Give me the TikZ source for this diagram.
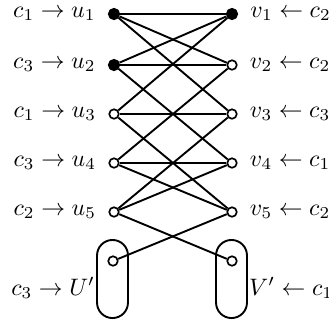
\documentclass[tikz,border=0pt]{standalone}
\begin{document}
\begin{tikzpicture}[x=0.42pt,y=-0.42pt,
  vtx/.style={circle,draw,line width=0.7pt,inner sep=0pt,minimum size=4pt,fill=white},
  fvtx/.style={vtx,fill=black,minimum size=4.4pt},
  edge/.style={line width=0.8pt},
  ll/.style={label={[label distance=4.5pt,inner sep=0.5pt]left:#1}},
  rl/.style={label={[label distance=4.5pt,inner sep=0.5pt]right:#1}},
  capsule/.style={draw,line width=0.8pt,rounded corners=6.5pt,minimum width=13pt,minimum height=32.8pt,inner sep=0pt}]
\useasboundingbox (0,0) rectangle (329,320);
% capsules
\node[capsule] (Ucap) at (112.5,279) {};
\node[capsule] (Vcap) at (231.5,279) {};
% left vertices
\node[fvtx,ll={$c_1\rightarrow u_1$}] (u1) at (114,14) {};
\node[fvtx,ll={$c_3\rightarrow u_2$}] (u2) at (114,65) {};
\node[vtx,ll={$c_1\rightarrow u_3$}] (u3) at (114,114) {};
\node[vtx,ll={$c_3\rightarrow u_4$}] (u4) at (114,163) {};
\node[vtx,ll={$c_2\rightarrow u_5$}] (u5) at (114,212) {};
\node[vtx] (up) at (113,261) {};
% right vertices
\node[fvtx,rl={$v_1\leftarrow c_2$}] (v1) at (232,14) {};
\node[vtx,rl={$v_2\leftarrow c_2$}] (v2) at (232,65) {};
\node[vtx,rl={$v_3\leftarrow c_3$}] (v3) at (232,114) {};
\node[vtx,rl={$v_4\leftarrow c_1$}] (v4) at (232,163) {};
\node[vtx,rl={$v_5\leftarrow c_2$}] (v5) at (232,212) {};
\node[vtx] (vp) at (232,261) {};
% set labels
\node[anchor=east,inner sep=0.3pt] (Ulab) at ([yshift=-3.8pt]Ucap.west) {$c_3\rightarrow U'$};
\node[anchor=west,inner sep=0.3pt] (Vlab) at ([yshift=-3.8pt]Vcap.east) {$V'\leftarrow c_1$};
% edges
\foreach \a/\b in {u1/v1,u1/v2,u1/v3,u2/v1,u2/v2,u2/v4,u3/v1,u3/v3,u3/v5,
                   u4/v2,u4/v4,u4/v5,u5/v3,u5/v4,u5/vp,v5/up}
  \draw[edge] (\a) -- (\b);
\end{tikzpicture}
\end{document}
